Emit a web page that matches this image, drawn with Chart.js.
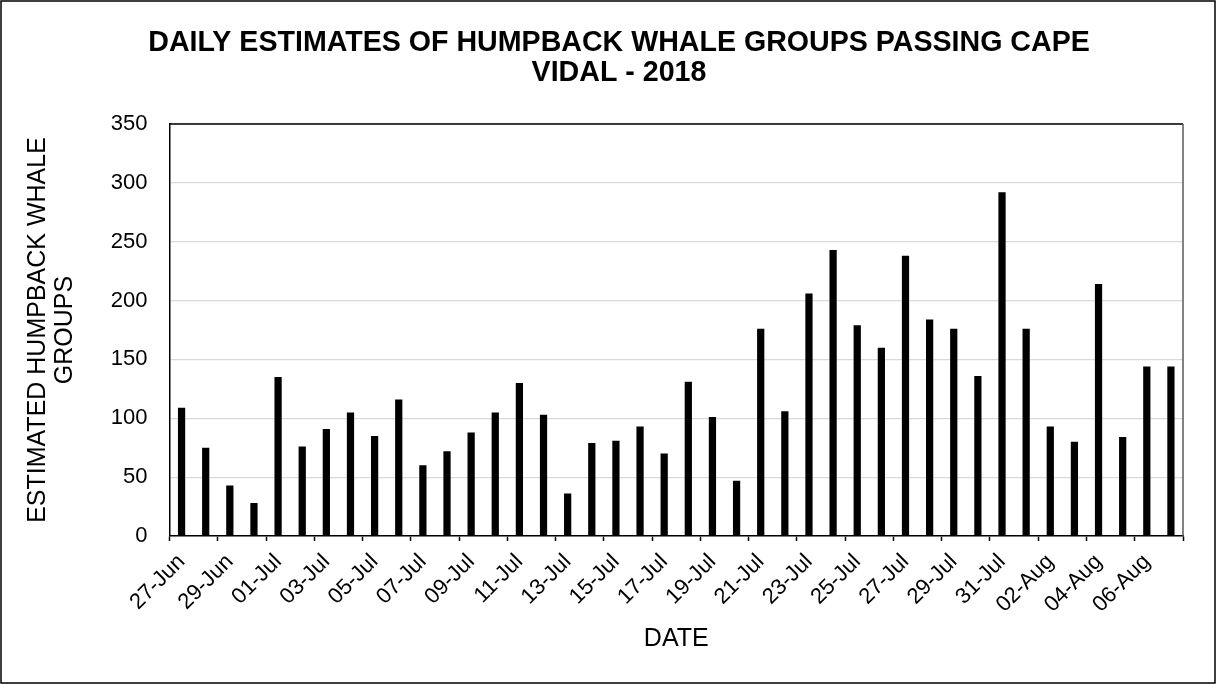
<!DOCTYPE html>
<html>
<head>
<meta charset="utf-8">
<script src="https://cdn.jsdelivr.net/npm/chart.js@4.4.1/dist/chart.umd.min.js"></script>
<style>
  html, body { margin: 0; padding: 0; background: #fff; }
  #wrap { width: 1216px; height: 684px; position: relative; }
  canvas { display: block; }
</style>
</head>
<body>
<div id="wrap"><canvas id="chart" width="1216" height="684"></canvas></div>
<script>
// Survey days, 27 June to 7 August 2018
const dates = [
  '27-Jun', '28-Jun', '29-Jun', '30-Jun',
  '01-Jul', '02-Jul', '03-Jul', '04-Jul', '05-Jul', '06-Jul', '07-Jul', '08-Jul',
  '09-Jul', '10-Jul', '11-Jul', '12-Jul', '13-Jul', '14-Jul', '15-Jul', '16-Jul',
  '17-Jul', '18-Jul', '19-Jul', '20-Jul', '21-Jul', '22-Jul', '23-Jul', '24-Jul',
  '25-Jul', '26-Jul', '27-Jul', '28-Jul', '29-Jul', '30-Jul', '31-Jul',
  '01-Aug', '02-Aug', '03-Aug', '04-Aug', '05-Aug', '06-Aug', '07-Aug'
];

// Estimated humpback whale groups per day
const groups = [
  109, 75, 43, 28,
  135, 76, 91, 105, 85, 116, 60, 72,
  88, 105, 130, 103, 36, 79, 81, 93,
  70, 131, 101, 47, 176, 106, 206, 243,
  179, 160, 238, 184, 176, 136, 292,
  176, 93, 80, 214, 84, 144, 144
];

// Value axis range
const yMin = 0;
const yMax = 350;
const yStep = 50;

// Only every second date carries a label
const labelEvery = 2;

const FONT = "'Liberation Sans', Arial, Helvetica, sans-serif";

// Outer chart frame and the top/right edges of the plot area
const frames = {
  id: 'frames',
  beforeDraw(chart) {
    const { ctx, width, height } = chart;
    ctx.save();
    ctx.fillStyle = '#ffffff';
    ctx.fillRect(0, 0, width, height);
    ctx.restore();
  },
  afterDraw(chart) {
    const { ctx, chartArea: a, width, height } = chart;
    ctx.save();
    ctx.strokeStyle = '#000000';
    ctx.lineWidth = 1.5;
    ctx.strokeRect(1, 1, width - 2, height - 2);
    ctx.beginPath();
    ctx.moveTo(a.left, a.top);
    ctx.lineTo(a.right, a.top);
    ctx.stroke();
    ctx.strokeStyle = '#595959';
    ctx.beginPath();
    ctx.moveTo(a.right, a.top);
    ctx.lineTo(a.right, a.bottom);
    ctx.stroke();
    ctx.restore();
  }
};

new Chart(document.getElementById('chart'), {
  type: 'bar',
  data: {
    labels: dates,
    datasets: [{
      label: 'Estimated humpback whale groups',
      data: groups,
      backgroundColor: '#000000',
      borderWidth: 0,
      categoryPercentage: 1.0,
      barPercentage: 0.3
    }]
  },
  options: {
    responsive: false,
    animation: false,
    devicePixelRatio: 1,
    layout: { padding: { left: 55, right: 33, top: 0, bottom: 0 } },
    plugins: {
      legend: { display: false },
      tooltip: { enabled: false },
      title: {
        display: true,
        text: ['DAILY ESTIMATES OF HUMPBACK WHALE GROUPS PASSING CAPE', 'VIDAL - 2018'],
        color: '#000000',
        font: { family: FONT, size: 28.6, weight: 'bold', lineHeight: 30 / 28.6 },
        padding: { top: 27.7, bottom: 36.3 }
      }
    },
    scales: {
      x: {
        offset: true,
        grid: {
          offset: true,
          drawOnChartArea: false,
          drawTicks: true,
          tickLength: 5,
          tickWidth: 1.5,
          tickColor: (c) => (c.index === undefined || c.index % labelEvery === 0) ? '#000000' : 'rgba(0,0,0,0)'
        },
        border: { display: true, color: '#000000', width: 1.5 },
        ticks: {
          autoSkip: false,
          minRotation: 45,
          maxRotation: 45,
          padding: 8,
          color: '#000000',
          font: { family: FONT, size: 22 },
          callback: (v, i) => (i % labelEvery === 0 ? dates[i] : '')
        },
        title: {
          display: true,
          text: 'DATE',
          color: '#000000',
          font: { family: FONT, size: 25, lineHeight: 1.2 },
          padding: { top: 0, bottom: 30 }
        },
        afterFit: (s) => { s.height = 148; }
      },
      y: {
        min: yMin,
        max: yMax,
        grid: {
          color: '#d9d9d9',
          lineWidth: 1.25,
          drawTicks: false
        },
        border: { display: true, color: '#000000', width: 1.5 },
        ticks: {
          stepSize: yStep,
          padding: 22,
          color: '#000000',
          font: { family: FONT, size: 22 }
        },
        title: {
          display: true,
          text: ['ESTIMATED HUMPBACK WHALE', 'GROUPS'],
          color: '#000000',
          font: { family: FONT, size: 25, lineHeight: 1.1 },
          padding: { top: -31, bottom: 0 }
        },
        afterFit: (s) => { s.width = 114.5; }
      }
    }
  },
  plugins: [frames]
});
</script>
</body>
</html>
